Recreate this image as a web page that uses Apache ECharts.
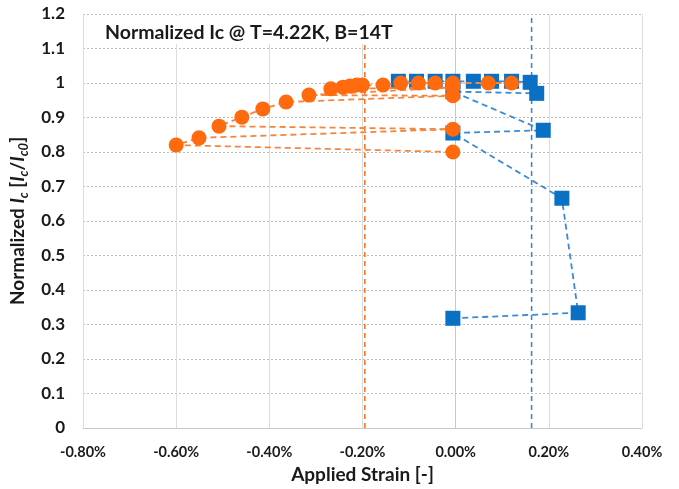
<!DOCTYPE html>
<html>
<head>
<meta charset="utf-8">
<script src="https://cdn.jsdelivr.net/npm/echarts@6/dist/echarts.min.js"></script>
<style>html,body{margin:0;padding:0;background:#fff}#c{width:679px;height:489px}</style>
</head>
<body>
<div id="c"></div>
<script>
// Compressive (orange) measurement path: strain [%] and normalized Ic
const orangeStrain = [0.12, 0.07, -0.006, -0.044, -0.08, -0.118, -0.156, -0.2, -0.212, -0.227, -0.242, -0.268, -0.006, -0.315, -0.006, -0.364, -0.414, -0.459, -0.508, -0.006, -0.551, -0.6, -0.006];
const orangeIc     = [1.0, 1.0, 1.0, 1.0, 1.0, 1.0, 0.994, 0.994, 0.994, 0.991, 0.988, 0.983, 0.987, 0.965, 0.963, 0.945, 0.925, 0.901, 0.875, 0.866, 0.841, 0.82, 0.80];
// Tensile (blue) measurement path
const blueStrain = [-0.123, -0.084, -0.044, -0.006, 0.038, 0.077, 0.12, 0.16, 0.174, -0.006, 0.188, -0.006, 0.228, 0.263, -0.006];
const blueIc     = [1.005, 1.005, 1.005, 1.005, 1.005, 1.005, 1.005, 1.002, 0.970, 0.975, 0.863, 0.855, 0.666, 0.334, 0.318];
// Reference vertical markers (strain at peak)
const orangeMarker = -0.195;
const blueMarker = 0.163;
const xTicks = [-0.8, -0.6, -0.4, -0.2, 0, 0.2, 0.4];
const yTicks = [0, 0.1, 0.2, 0.3, 0.4, 0.5, 0.6, 0.7, 0.8, 0.9, 1, 1.1, 1.2];

const zip = (a, b) => a.map((v, i) => [v, b[i]]);
const F = 'Lato, "Open Sans", sans-serif';
const orange = '#ff6a0e';
const blue = '#0a70c4';
const ink = '#1a1a1a';

const chart = echarts.init(document.getElementById('c'), null, {renderer: 'canvas'});
chart.setOption({
  animation: false,
  backgroundColor: '#fff',
  title: {
    text: 'Normalized Ic @ T=4.22K, B=14T',
    left: 100, top: 16,
    padding: [7, 5, 1, 5],
    backgroundColor: '#fff',
    textStyle: {fontFamily: F, fontSize: 19.5, fontWeight: 'bold', color: ink}
  },
  grid: {left: 83, right: 37, top: 14, bottom: 61, containLabel: false},
  xAxis: {
    type: 'value', min: xTicks[0], max: xTicks[xTicks.length - 1], interval: 0.2,
    name: 'Applied Strain [-]', nameLocation: 'middle', nameGap: 35,
    nameTextStyle: {fontFamily: F, fontSize: 19, fontWeight: 'bold', color: ink},
    axisLine: {show: true, lineStyle: {color: '#c8c8c8', width: 1}},
    axisTick: {show: false},
    axisLabel: {fontFamily: F, fontSize: 14.5, fontWeight: 'bold', color: ink, margin: 17,
      formatter: v => v.toFixed(2) + '%'},
    splitLine: {show: true, lineStyle: {color: '#dcdcdc', width: 1}}
  },
  yAxis: {
    type: 'value', min: yTicks[0], max: yTicks[yTicks.length - 1], interval: 0.1,
    name: 'Normalized {i|I}{s|c} [{i|I}{s|c}/{i|I}{s|c0}]', nameLocation: 'middle', nameGap: 46,
    nameTextStyle: {fontFamily: F, fontSize: 19, fontWeight: 'bold', color: ink,
      rich: {
        i: {fontFamily: F, fontSize: 19, fontWeight: 'bold', fontStyle: 'italic', color: ink, lineHeight: 24, verticalAlign: 'middle'},
        s: {fontFamily: F, fontSize: 13, fontWeight: 'bold', fontStyle: 'italic', color: ink, lineHeight: 14, verticalAlign: 'bottom'}
      }},
    axisLine: {show: true, lineStyle: {color: '#c8c8c8', width: 1}},
    axisTick: {show: false},
    axisLabel: {fontFamily: F, fontSize: 17, fontWeight: 'bold', color: ink, margin: 18,
      formatter: v => String(Math.round(v * 10) / 10)},
    splitLine: {show: true, lineStyle: {color: '#bdbdbd', width: 1, type: [2, 2]}}
  },
  series: [
    {
      type: 'line', data: [[orangeMarker, 0], [orangeMarker, 1.2]], symbol: 'none', z: 1,
      lineStyle: {color: orange, width: 1.5, type: [5, 4]}
    },
    {
      type: 'line', data: [[blueMarker, 0], [blueMarker, 1.2]], symbol: 'none', z: 1,
      lineStyle: {color: '#2a86d2', width: 1.5, type: [5, 4]}
    },
    {
      type: 'line', data: zip(blueStrain, blueIc), symbol: 'rect', symbolSize: 15, z: 3,
      itemStyle: {color: blue},
      lineStyle: {color: '#3a8ad4', width: 1.8, type: [6, 4]}
    },
    {
      type: 'line', data: zip(orangeStrain, orangeIc), symbol: 'circle', symbolSize: 15, z: 4,
      itemStyle: {color: orange},
      lineStyle: {color: '#f5843d', width: 1.8, type: [6, 4]}
    }
  ]
});
</script>
</body>
</html>
